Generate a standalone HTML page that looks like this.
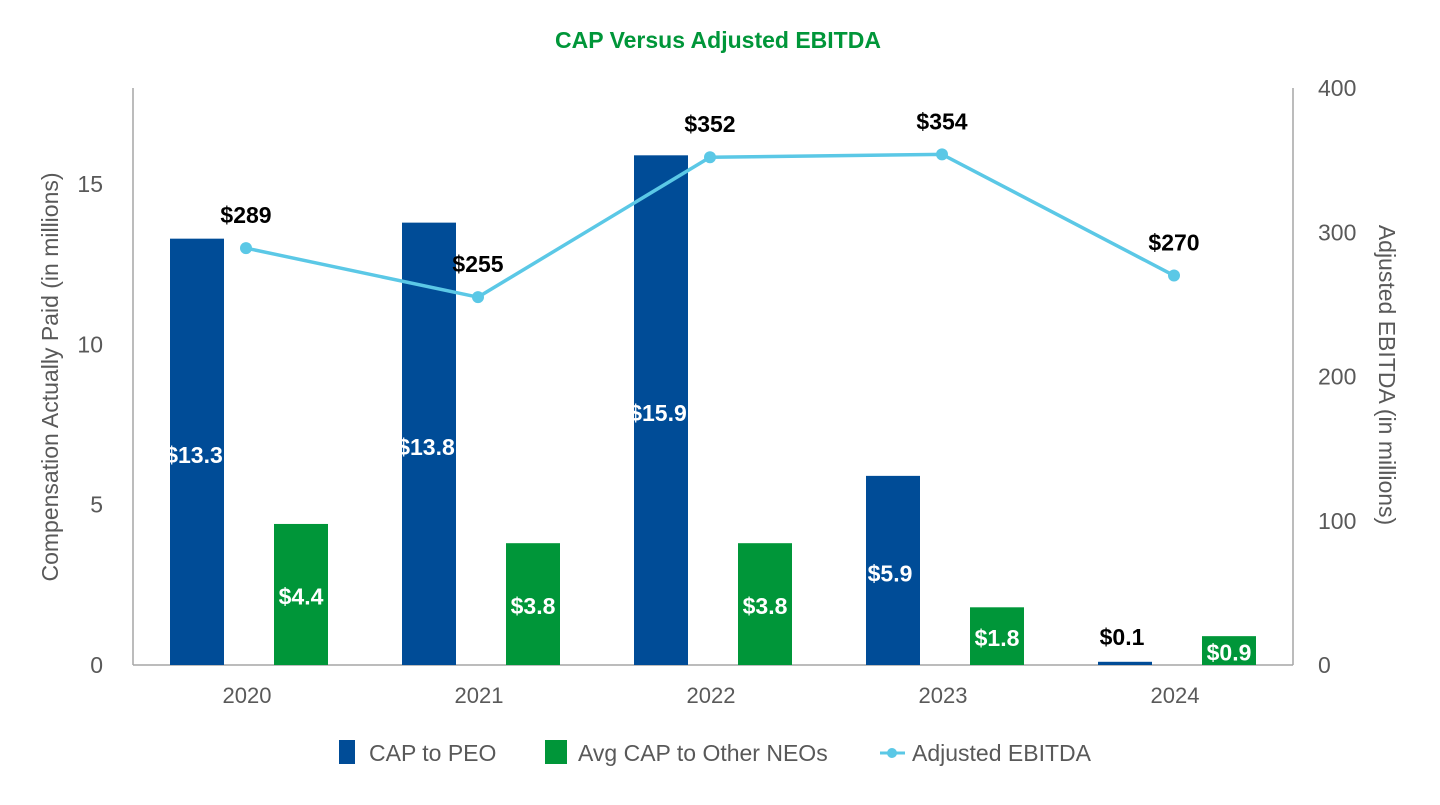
<!DOCTYPE html>
<html><head><meta charset="utf-8"><style>
body{margin:0;background:#fff;width:1440px;height:800px;overflow:hidden;font-family:"Liberation Sans",sans-serif}
</style></head><body>
<svg id="chart" width="1440" height="800" xmlns="http://www.w3.org/2000/svg" font-family="Liberation Sans, sans-serif">
<text x="718" y="48" text-anchor="middle" font-size="23" font-weight="bold" fill="#009639">CAP Versus Adjusted EBITDA</text>
<g id="plot"></g>
<g>
<rect x="339" y="740" width="16" height="24" fill="#004C97"/>
<text x="369" y="761" font-size="23" fill="#595959">CAP to PEO</text>
<rect x="545" y="740" width="22" height="24" fill="#009639"/>
<text x="578" y="761" font-size="23" fill="#595959">Avg CAP to Other NEOs</text>
<line x1="880" y1="753" x2="905" y2="753" stroke="#5BC8E6" stroke-width="3"/>
<circle cx="892" cy="753" r="5" fill="#5BC8E6"/>
<text x="912" y="761" font-size="23" fill="#595959">Adjusted EBITDA</text>
</g>
</svg>
<script>
const categories=["2020","2021","2022","2023","2024"];
const peo=[13.3,13.8,15.9,5.9,0.1];
const neos=[4.4,3.8,3.8,1.8,0.9];
const ebitda=[289,255,352,354,270];
const leftTicks=[0,5,10,15];
const rightTicks=[0,100,200,300,400];
const NS="http://www.w3.org/2000/svg";
const g=document.getElementById('plot');
const x0=133,x1=1293,yBase=665,yTop=88;
const yL=v=>yBase-v*(yBase-yTop)/18;
const yR=v=>yBase-v*(yBase-yTop)/400;
const band=(x1-x0)/categories.length;
const xc=i=>x0+band*(i+0.5);
function mk(t,a,txt){const e=document.createElementNS(NS,t);for(const k in a)e.setAttribute(k,a[k]);if(txt!==undefined)e.textContent=txt;g.appendChild(e);return e;}
let e;
e=mk('line',{x1:x0,y1:yTop,x2:x0,y2:yBase,stroke:'#A6A6A6','stroke-width':1.5});


e=mk('line',{x1:x1,y1:yTop,x2:x1,y2:yBase,stroke:'#A6A6A6','stroke-width':1.5});


e=mk('line',{x1:x0,y1:yBase,x2:x1,y2:yBase,stroke:'#A6A6A6','stroke-width':1.5});


leftTicks.forEach(t=>{e=mk('text',{x:103,y:yL(t)+8,'text-anchor':'end','font-size':23,fill:'#595959'},t);

});
rightTicks.forEach(t=>{e=mk('text',{x:1318,y:yR(t)+8,'font-size':23,fill:'#595959'},t);

});
e=mk('text',{transform:'translate(58,377) rotate(-90)','text-anchor':'middle','font-size':23,fill:'#595959'},'Compensation Actually Paid (in millions)');


e=mk('text',{transform:'translate(1379,375) rotate(90)','text-anchor':'middle','font-size':23,fill:'#595959'},'Adjusted EBITDA (in millions)');


const bw=54,off=52;
categories.forEach((c,i)=>{
 e=mk('text',{x:xc(i)-2,y:703,'text-anchor':'middle','font-size':22,fill:'#595959'},c);
 
 
 const bx=xc(i)-off;
 e=mk('rect',{x:bx-bw/2,y:yL(peo[i]),width:bw,height:yBase-yL(peo[i]),fill:'#004C97'});
 
 
 const inP=(yBase-yL(peo[i]))>40;
 e=mk('text',{x:bx-3,y:inP?(yL(peo[i])+yBase)/2+11:yL(peo[i])-17,'text-anchor':'middle','font-size':23,'font-weight':'bold',fill:inP?'#fff':'#000'},'$'+peo[i].toFixed(1));
 
 
 const gx=xc(i)+off;
 e=mk('rect',{x:gx-bw/2,y:yL(neos[i]),width:bw,height:yBase-yL(neos[i]),fill:'#009639'});
 
 
 e=mk('text',{x:gx,y:(yL(neos[i])+yBase)/2+10,'text-anchor':'middle','font-size':23,'font-weight':'bold',fill:'#fff'},'$'+neos[i].toFixed(1));
 
 
});
e=mk('polyline',{points:ebitda.map((v,i)=>(xc(i)-3)+','+yR(v)).join(' '),fill:'none',stroke:'#5BC8E6','stroke-width':3.5});


ebitda.forEach((v,i)=>{
 e=mk('circle',{cx:xc(i)-3,cy:yR(v),r:6,fill:'#5BC8E6'});
 
 
 e=mk('text',{x:xc(i)-3,y:yR(v)-25,'text-anchor':'middle','font-size':23,'font-weight':'bold',fill:'#000'},'$'+v);
 
 
});
</script>
</body></html>
